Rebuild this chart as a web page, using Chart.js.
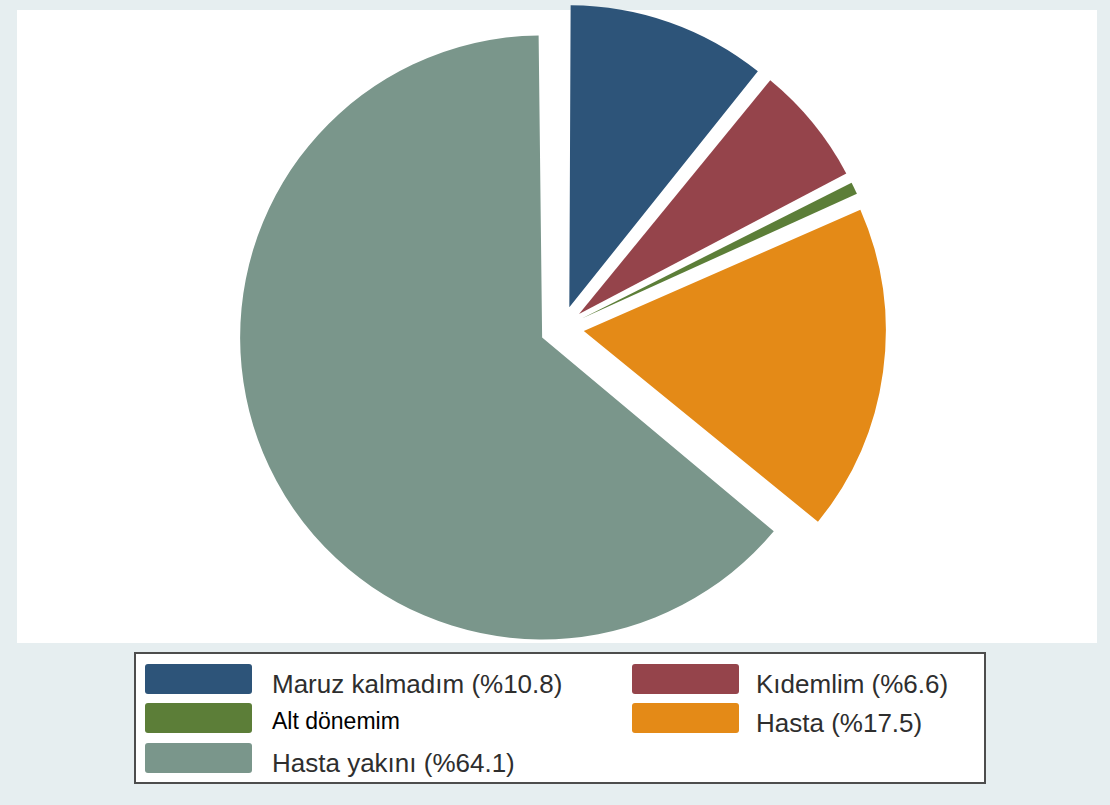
<!DOCTYPE html>
<html>
<head>
<meta charset="utf-8">
<script src="https://cdn.jsdelivr.net/npm/chart.js@4.4.0/dist/chart.umd.min.js"></script>
<style>
  html, body { margin: 0; padding: 0; }
  body { width: 1110px; height: 805px; background: #e6eef0; position: relative; overflow: hidden; font-family: "Liberation Sans", Arial, sans-serif; }
  #plotbg { position: absolute; left: 17px; top: 10px; width: 1080px; height: 633px; background: #ffffff; }
  #wrap { position: absolute; left: 0; top: 0; width: 1110px; height: 805px; }
  #legend { position: absolute; left: 134px; top: 652px; width: 848px; height: 128px; background: #fff; border: 2px solid #4d4d4d; }
  .item { position: absolute; height: 31px; }
  .sw { position: absolute; left: 0; top: 0; width: 107px; height: 30px; border-radius: 3px; }
  .lab { position: absolute; white-space: nowrap; font-size: 26px; color: #2e2e2e; line-height: 1; }
</style>
</head>
<body>
<div id="plotbg"></div>
<div id="wrap"><canvas id="c" width="1110" height="805"></canvas></div>
<div id="legend"></div>
<script>
// ---- data ----
const categories = ['Maruz kalmadım', 'Kıdemlim', 'Alt dönemim', 'Hasta', 'Hasta yakını'];
const values = [10.8, 6.6, 1.0, 17.5, 64.1];
const legendLabels = ['Maruz kalmadım (%10.8)', 'Kıdemlim (%6.6)', 'Alt dönemim', 'Hasta (%17.5)', 'Hasta yakını (%64.1)'];
const colors = ['#2d5479', '#95444b', '#5c7e38', '#e48a17', '#7a968b'];

const R = 302;        // pie radius (px)
const EXPLODE = 22;   // explode distance (px)

// Chart.js translates arcs by offset/4 and grows radius by (offset/4)*fix; undo radius growth
const radiusFix = {
  id: 'radiusFix',
  beforeDatasetsDraw(chart) {
    const meta = chart.getDatasetMeta(0);
    meta.data.forEach(el => {
      const off = (el.options.offset || 0) / 4;
      const fix = 1 - Math.sin(Math.min(Math.PI, el.circumference || 0));
      el.outerRadius = R - off * fix;
    });
  }
};

new Chart(document.getElementById('c'), {
  type: 'pie',
  data: {
    labels: categories,
    datasets: [{
      data: values,
      backgroundColor: colors,
      borderWidth: 0,
      offset: EXPLODE * 4,
      hoverOffset: EXPLODE * 4,
      radius: R
    }]
  },
  options: {
    responsive: false,
    animation: false,
    events: [],
    layout: { padding: { left: 14, right: 0, top: 0, bottom: 149 } },
    plugins: { legend: { display: false }, tooltip: { enabled: false } }
  },
  plugins: [radiusFix]
});

// ---- legend (2 columns, row-major) ----
const legend = document.getElementById('legend');
const colX = [9, 496];
const labX = [127, 124];
const rowY = [10, 49, 89];
legendLabels.forEach((t, i) => {
  const col = i % 2, row = Math.floor(i / 2);
  const it = document.createElement('div');
  it.className = 'item';
  it.style.left = colX[col] + 'px';
  it.style.top = rowY[row] + 'px';
  const sw = document.createElement('div');
  sw.className = 'sw';
  sw.style.background = colors[i];
  const lab = document.createElement('div');
  lab.className = 'lab';
  lab.textContent = t;
  lab.style.left = labX[col] + 'px';
  if (i === 2) {
    lab.style.fontFamily = 'Arial, "Liberation Sans", sans-serif';
    lab.style.fontSize = '23px';
    lab.style.color = '#000';
    lab.style.top = '7px';
  } else {
    lab.style.top = '7px';
  }
  it.appendChild(sw);
  it.appendChild(lab);
  legend.appendChild(it);
});
</script>
</body>
</html>
